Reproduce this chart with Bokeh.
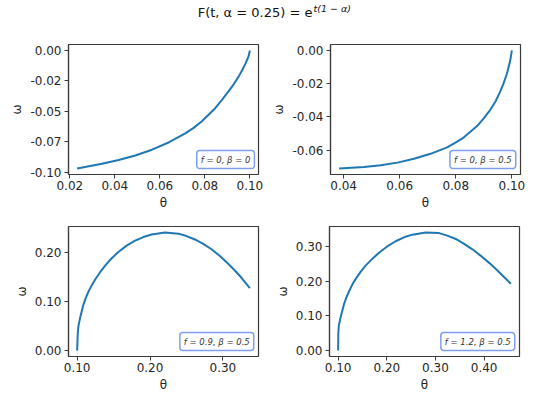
from bokeh.plotting import figure
from bokeh.models import ColumnDataSource, Range1d, FixedTicker, Label
from bokeh.layouts import column, row
from bokeh.embed import file_html
from bokeh.resources import INLINE

# ---------------- data ----------------
theta_1 = [0.02325, 0.0343, 0.0417, 0.0491, 0.0565, 0.0639, 0.0713, 0.0750, 0.0787,
           0.0846, 0.0876, 0.0905, 0.0928, 0.0950, 0.0965, 0.0980, 0.0994, 0.1000]
omega_1 = [-0.0969, -0.0929, -0.0899, -0.0862, -0.0814, -0.0755, -0.0680, -0.0635,
           -0.0581, -0.0474, -0.0406, -0.0336, -0.0278, -0.0215, -0.0165, -0.0110,
           -0.0050, 0.0]

theta_2 = [0.0384, 0.0473, 0.0532, 0.0592, 0.0651, 0.0710, 0.0769, 0.0799, 0.0828,
           0.0876, 0.0899, 0.0923, 0.0941, 0.0958, 0.0970, 0.0982, 0.0994, 0.1000]
omega_2 = [-0.0712, -0.0702, -0.0692, -0.0676, -0.0653, -0.0623, -0.0584, -0.0556,
           -0.0525, -0.0456, -0.0411, -0.0358, -0.0309, -0.0250, -0.0200, -0.0142,
           -0.0063, 0.0]

theta_3 = [0.1000, 0.1008, 0.1018, 0.1041, 0.1086, 0.1118, 0.1155, 0.1200, 0.1247,
           0.1315, 0.1384, 0.1474, 0.1566, 0.1679, 0.1795, 0.1908, 0.2023, 0.2205,
           0.2388, 0.2502, 0.2616, 0.2730, 0.2844, 0.2959, 0.3073, 0.3164, 0.3255,
           0.3370]
omega_3 = [0.0, 0.034, 0.0507, 0.0673, 0.094, 0.1073, 0.1207, 0.1335, 0.1455,
           0.1605, 0.1740, 0.1890, 0.2020, 0.2150, 0.2250, 0.2325, 0.2378, 0.2420,
           0.2395, 0.2345, 0.2275, 0.2185, 0.2075, 0.1935, 0.1778, 0.1640, 0.1491,
           0.1280]

theta_4 = [0.1000, 0.1003, 0.1014, 0.1049, 0.1117, 0.1165, 0.1220, 0.1288, 0.1358,
           0.1461, 0.1564, 0.1700, 0.1838, 0.2009, 0.2181, 0.2353, 0.2524, 0.2799,
           0.3073, 0.3244, 0.3417, 0.3588, 0.3759, 0.3932, 0.4103, 0.4241, 0.4377,
           0.4549]
omega_4 = [0.0, 0.048, 0.0714, 0.095, 0.1327, 0.1516, 0.170, 0.190, 0.2065,
           0.2275, 0.2455, 0.2650, 0.2825, 0.3010, 0.3160, 0.3274, 0.335, 0.3415,
           0.3395, 0.3321, 0.3226, 0.3085, 0.2927, 0.2738, 0.2535, 0.2358, 0.2172,
           0.1930]

labels = ["f = 0, β = 0", "f = 0, β = 0.5", "f = 0.9, β = 0.5", "f = 1.2, β = 0.5"]

xticks_1 = [0.02, 0.04, 0.06, 0.08, 0.10]
xlabels_1 = ["0.02", "0.04", "0.06", "0.08", "0.10"]
yticks_1 = [-0.1, -0.075, -0.05, -0.025, 0.0]
ylabels_1 = ["-0.10", "-0.07", "-0.05", "-0.02", "0.00"]

xticks_2 = [0.04, 0.06, 0.08, 0.10]
xlabels_2 = ["0.04", "0.06", "0.08", "0.10"]
yticks_2 = [-0.06, -0.04, -0.02, 0.0]
ylabels_2 = ["-0.06", "-0.04", "-0.02", "0.00"]

xticks_3 = [0.1, 0.2, 0.3]
xlabels_3 = ["0.10", "0.20", "0.30"]
yticks_3 = [0.0, 0.1, 0.2]
ylabels_3 = ["0.00", "0.10", "0.20"]

xticks_4 = [0.1, 0.2, 0.3, 0.4]
xlabels_4 = ["0.10", "0.20", "0.30", "0.40"]
yticks_4 = [0.0, 0.1, 0.2, 0.3]
ylabels_4 = ["0.00", "0.10", "0.20", "0.30"]

title_main = "F(t, α = 0.25) = e"
title_sup = "t(1 − α)"

FONT = "DejaVu Sans"
FRAME_W, FRAME_H = 190, 130
DARK = "#262626"


def padded(vals):
    lo, hi = min(vals), max(vals)
    pad = 0.05 * (hi - lo)
    return lo - pad, hi + pad


def make_panel(th, om, xt, xl, yt, yl, lab, border_left, border_right, border_top,
               border_bottom, anchor):
    x0, x1 = padded(th)
    y0, y1 = padded(om)
    p = figure(frame_width=FRAME_W, frame_height=FRAME_H,
               x_range=Range1d(x0, x1), y_range=Range1d(y0, y1),
               output_backend="svg", toolbar_location=None,
               min_border_left=border_left, min_border_right=border_right,
               min_border_top=border_top, min_border_bottom=border_bottom,
               background_fill_color="white", border_fill_color="white")
    p.grid.visible = False
    p.outline_line_color = "#3a3a3a"
    p.outline_line_width = 1.2
    src = ColumnDataSource(dict(theta=th, omega=om))
    p.line("theta", "omega", source=src, line_color="#1f77b4", line_width=2)

    p.xaxis.ticker = FixedTicker(ticks=xt)
    p.xaxis.major_label_overrides = {t: s for t, s in zip(xt, xl)}
    p.yaxis.ticker = FixedTicker(ticks=yt)
    p.yaxis.major_label_overrides = {t: s for t, s in zip(yt, yl)}
    for ax in (p.xaxis[0], p.yaxis[0]):
        ax.axis_line_color = "#3a3a3a"
        ax.axis_line_width = 1.2
        ax.major_tick_line_color = "#3a3a3a"
        ax.major_tick_out = 4
        ax.major_tick_in = 0
        ax.minor_tick_line_color = None
        ax.major_label_text_font = FONT
        ax.major_label_text_font_size = "12px"
        ax.major_label_text_color = DARK
        ax.axis_label_text_font = FONT
        ax.axis_label_text_font_size = "12px"
        ax.axis_label_text_font_style = "normal"
        ax.axis_label_text_color = DARK
    p.xaxis.axis_label = "θ"
    p.yaxis.axis_label = "ω"
    p.xaxis.major_label_standoff = 2
    p.yaxis.major_label_standoff = 3
    p.xaxis.axis_label_standoff = 3
    p.yaxis.axis_label_standoff = 3

    ly = y0 + 0.115 * (y1 - y0)
    if anchor == "left":
        lx = x0 + 0.675 * (x1 - x0)
    else:
        lx = x0 + 0.975 * (x1 - x0)
    p.add_layout(Label(x=lx, y=ly, text=lab, text_align=anchor, text_baseline="middle",
                       text_font=FONT, text_font_size="8.5px", text_font_style="italic",
                       text_color="#333333",
                       background_fill_color="white", background_fill_alpha=1.0,
                       border_line_color="#7f9ef0", border_line_width=1.5,
                       padding=4, border_radius=3))
    return p


p1 = make_panel(theta_1, omega_1, xticks_1, xlabels_1, yticks_1, ylabels_1, labels[0],
                68, 11, 15, 36, "left")
p2 = make_panel(theta_2, omega_2, xticks_2, xlabels_2, yticks_2, ylabels_2, labels[1],
                60, 10, 15, 36, "right")
p3 = make_panel(theta_3, omega_3, xticks_3, xlabels_3, yticks_3, ylabels_3, labels[2],
                68, 11, 14, 40, "right")
p4 = make_panel(theta_4, omega_4, xticks_4, xlabels_4, yticks_4, ylabels_4, labels[3],
                60, 10, 14, 40, "right")

# title strip
tf = figure(width=529, height=29, x_range=Range1d(0, 529), y_range=Range1d(0, 29),
            x_axis_type=None, y_axis_type=None, output_backend="svg",
            toolbar_location=None, min_border=0, outline_line_color=None)
tf.grid.visible = False
tf.add_layout(Label(x=312, y=17.5, text=title_main, text_align="right", text_baseline="middle",
                    text_font=FONT, text_font_size="13px", text_color="#111111"))
tf.add_layout(Label(x=313, y=21, text=title_sup, text_align="left", text_baseline="middle",
                    text_font=FONT, text_font_size="9.5px", text_font_style="italic",
                    text_color="#111111"))

layout = column(tf, row(p1, p2), row(p3, p4))
open("out.html", "w").write(file_html(layout, INLINE))
